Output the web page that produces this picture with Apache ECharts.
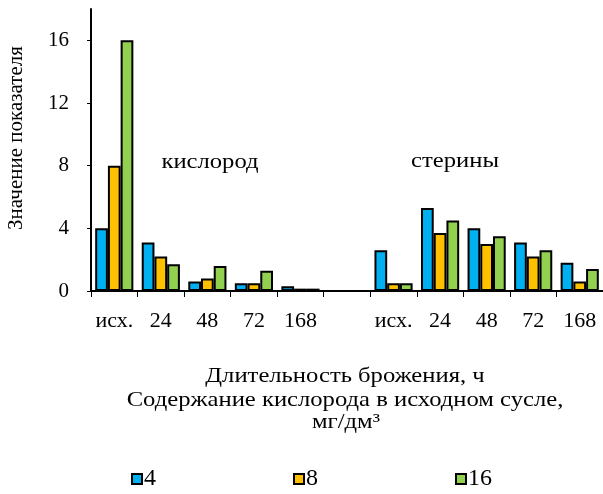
<!DOCTYPE html>
<html>
<head>
<meta charset="utf-8">
<script src="https://cdn.jsdelivr.net/npm/echarts@6/dist/echarts.min.js"></script>
<style>
  html, body { margin: 0; padding: 0; background: #fff; }
  #chart { width: 603px; height: 494px; }
</style>
</head>
<body>
<div id="chart"></div>
<script>
// categories: oxygen group, empty spacer, sterols group
var categories = ['исх.', '24', '48', '72', '168', '', 'исх.', '24', '48', '72', '168'];
var seriesNames = ['4', '8', '16'];
var values4  = [4.0, 3.1, 0.6, 0.5, 0.3, null, 2.6, 5.3, 4.0, 3.1, 1.8];
var values8  = [8.0, 2.2, 0.8, 0.5, 0.15, null, 0.5, 3.7, 3.0, 2.2, 0.6];
var values16 = [16.0, 1.7, 1.6, 1.3, 0.15, null, 0.5, 4.5, 3.5, 2.6, 1.4];
var yTicks = [0, 4, 8, 12, 16];

var colors = ['#00B0F0', '#FFC000', '#92D050'];
var FONT = '"Liberation Serif", "DejaVu Serif", serif';

var chart = echarts.init(document.getElementById('chart'));

function bar(name, data, color){
  return {
    name: name,
    type: 'bar',
    data: data,
    barGap: '0%',
    barCategoryGap: '18%',
    itemStyle: { color: color, borderColor: '#000', borderWidth: 2 },
    emphasis: { disabled: true }
  };
}

// plain text label, stretched a bit wider like the original
function label(text, x, y){
  return {
    type: 'text', x: x, y: y, scaleX: 1.12, scaleY: 1,
    style: { text: text, font: '22px ' + FONT, fill: '#000', align: 'center', verticalAlign: 'middle' }
  };
}

chart.setOption({
  animation: false,
  textStyle: { fontFamily: FONT, color: '#000' },
  grid: { left: 91, right: 0, top: 9, bottom: 203 },
  xAxis: {
    type: 'category',
    data: categories,
    axisLine: { lineStyle: { color: '#000', width: 2 } },
    axisTick: { show: true, length: 6, lineStyle: { color: '#000', width: 1 } },
    axisLabel: { fontFamily: FONT, fontSize: 22, color: '#000', margin: 19, interval: 0 }
  },
  yAxis: {
    type: 'value',
    min: 0,
    max: 18,
    interval: 4,
    splitLine: { show: false },
    axisLine: { show: true, lineStyle: { color: '#000', width: 2 } },
    axisTick: { show: true, length: 4, customValues: yTicks, lineStyle: { color: '#000' } },
    axisLabel: { fontFamily: FONT, fontSize: 21, color: '#000', margin: 22, customValues: yTicks }
  },
  legend: {
    left: 126,
    top: 462,
    itemWidth: 10,
    itemHeight: 10,
    itemGap: 137,
    icon: 'rect',
    data: seriesNames,
    textStyle: { fontFamily: FONT, fontSize: 24, color: '#000', padding: [0, 0, 0, -3] },
    itemStyle: { borderColor: '#000', borderWidth: 2 }
  },
  graphic: [
    { type: 'text', x: 16, y: 138, rotation: Math.PI / 2,
      style: { text: 'Значение показателя', font: '21px ' + FONT, fill: '#000', align: 'center', verticalAlign: 'middle' } },
    label('кислород', 210, 162),
    label('стерины', 455, 161),
    label('Длительность брожения, ч', 345, 376),
    label('Содержание кислорода в исходном сусле,', 345, 400),
    label('мг/дм³', 346, 422)
  ],
  series: [
    bar(seriesNames[0], values4, colors[0]),
    bar(seriesNames[1], values8, colors[1]),
    bar(seriesNames[2], values16, colors[2])
  ]
});
</script>
</body>
</html>
